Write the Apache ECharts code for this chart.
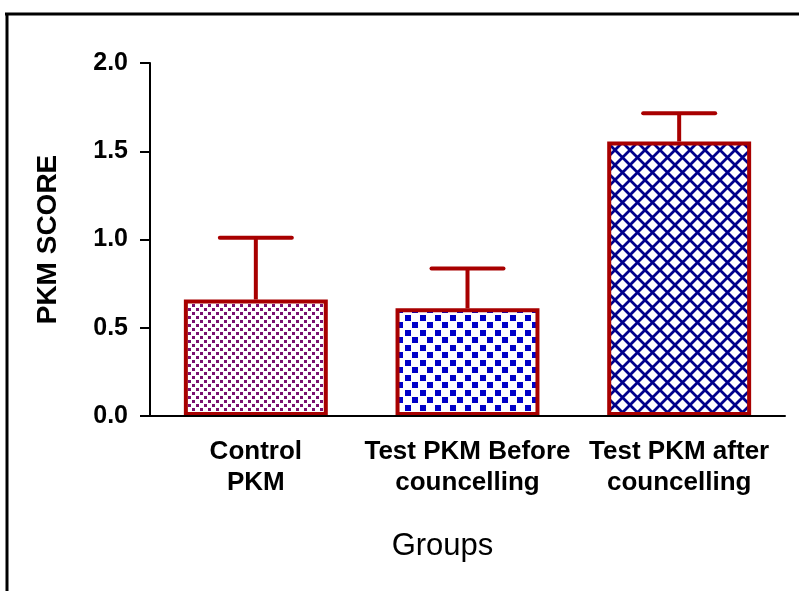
<!DOCTYPE html>
<html><head><meta charset="utf-8">
<script src="https://cdn.jsdelivr.net/npm/echarts@6/dist/echarts.min.js"></script>
<style>html,body{margin:0;padding:0;background:#fff}#c{width:799px;height:591px}</style>
</head><body><div id="c"></div>
<script>
const categories = ['Control\nPKM', 'Test PKM Before\ncouncelling', 'Test PKM after\ncouncelling'];
const means = [0.66, 0.61, 1.555];
const upperErr = [1.01, 0.835, 1.715];
const yTicks = [0, 0.5, 1.0, 1.5, 2.0];

function makePattern(kind) {
  const c = document.createElement('canvas');
  const ctx = c.getContext('2d');
  if (kind === 'dots') {
    c.width = 8; c.height = 8;
    ctx.fillStyle = '#fff'; ctx.fillRect(0,0,8,8);
    ctx.fillStyle = '#7a1070';
    ctx.fillRect(0,0,3,3); ctx.fillRect(4,4,3,3);
  } else if (kind === 'checker') {
    c.width = 15; c.height = 15;
    ctx.fillStyle = '#fff'; ctx.fillRect(0,0,15,15);
    ctx.fillStyle = '#0000c8';
    ctx.fillRect(0,0,6,6); ctx.fillRect(7,7,6,6);
  } else {
    c.width = 15; c.height = 15;
    ctx.fillStyle = '#fff'; ctx.fillRect(0,0,15,15);
    ctx.strokeStyle = '#00008b'; ctx.lineWidth = 2.8;
    ctx.beginPath();
    ctx.moveTo(-2,-2); ctx.lineTo(17,17);
    ctx.moveTo(17,-2); ctx.lineTo(-2,17);
    ctx.stroke();
  }
  return {image: c, repeat: 'repeat'};
}
const fills = [makePattern('dots'), makePattern('checker'), makePattern('cross')];
const RED = '#a80000';

const chart = echarts.init(document.getElementById('c'));
chart.setOption({
  animation: false,
  backgroundColor: '#fff',
  grid: {left: 150, right: 14, top: 63, bottom: 175},
  graphic: [
    {type: 'line', shape: {x1: 5, y1: 14, x2: 799, y2: 14}, style: {stroke: '#000', lineWidth: 3}},
    {type: 'line', shape: {x1: 7, y1: 13, x2: 7, y2: 591}, style: {stroke: '#000', lineWidth: 3}}
  ],
  xAxis: {
    type: 'category', data: categories, z: 5,
    axisLine: {lineStyle: {color: '#000', width: 2}},
    axisTick: {alignWithLabel: true, length: 7, lineStyle: {color: '#000', width: 2}},
    axisLabel: {interval: 0, color: '#000', fontFamily: 'Liberation Sans', fontWeight: 'bold', fontSize: 26, lineHeight: 31, margin: 20},
    name: 'Groups', nameLocation: 'middle', nameGap: 115,
    nameTextStyle: {color: '#000', fontFamily: 'Liberation Sans', fontSize: 31, padding: [0, 50, 0, 0]}
  },
  yAxis: {
    type: 'value', min: 0, max: 2, interval: 0.5,
    axisLine: {show: true, lineStyle: {color: '#000', width: 2}},
    axisTick: {show: true, length: 10, lineStyle: {color: '#000', width: 2}},
    splitLine: {show: false},
    axisLabel: {color: '#000', fontFamily: 'Liberation Sans', fontWeight: 'bold', fontSize: 25, margin: 22,
      formatter: v => yTicks.includes(v) ? v.toFixed(1) : ''},
    name: 'PKM SCORE', nameLocation: 'middle', nameGap: 88,
    nameTextStyle: {color: '#000', fontFamily: 'Liberation Sans', fontWeight: 'bold', fontSize: 28}
  },
  series: [
    {
      type: 'bar', barWidth: '68%',
      data: means.map((v, i) => ({value: v, itemStyle: {color: fills[i]}})),
      itemStyle: {borderColor: RED, borderWidth: 4},
      z: 2
    },
    {
      type: 'custom', z: 1,
      data: means.map((v, i) => [i, v, upperErr[i]]),
      renderItem: function (params, api) {
        const base = api.coord([api.value(0), api.value(1)]);
        const top = api.coord([api.value(0), api.value(2)]);
        const half = 36;
        return {type: 'group', children: [
          {type: 'line', shape: {x1: base[0], y1: base[1], x2: top[0], y2: top[1]}, style: {stroke: RED, lineWidth: 4}},
          {type: 'line', shape: {x1: top[0] - half, y1: top[1], x2: top[0] + half, y2: top[1]}, style: {stroke: RED, lineWidth: 4, lineCap: 'round'}}
        ]};
      }
    }
  ]
});
</script></body></html>
